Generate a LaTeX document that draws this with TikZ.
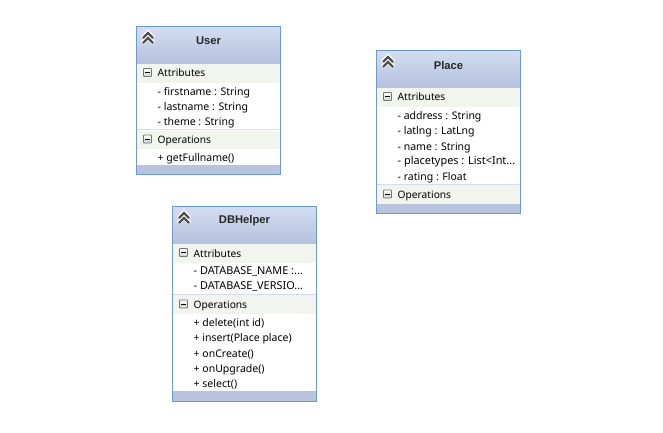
\documentclass[tikz,border=0pt]{standalone}
\usepackage{fontspec}
\setmainfont{Noto Sans}
\newfontfamily\titlefont{Liberation Sans}
\definecolor{edge}{HTML}{6A9AD6}
\definecolor{headtop}{HTML}{D3DCF0}
\definecolor{headbot}{HTML}{B4C1DE}
\definecolor{band}{HTML}{F2F5EE}
\definecolor{foot}{HTML}{B7C3DF}
\definecolor{sep}{HTML}{D5DCF0}
\definecolor{icon}{HTML}{505050}
\tikzset{
  classframe/.style={fill=white,inner sep=0pt,rectangle},
  frameline/.style={draw=edge,line width=1pt},
  headfill/.style={top color=headtop,bottom color=headbot,draw=none},
  bandfill/.style={fill=band,draw=none},
  footfill/.style={fill=foot,draw=none},
  titletext/.style={font=\titlefont\fontsize{11.2}{13}\selectfont\bfseries,text=black!85,inner sep=0pt,anchor=center},
  itemtext/.style={font=\fontsize{10.2}{12}\selectfont,text=black,inner sep=0pt,anchor=base west},
  membertext/.style={itemtext,font=\fontsize{10.5}{12}\selectfont},
  widetext/.style={itemtext,font=\fontsize{10.9}{12}\selectfont},
}
\newcommand{\chev}[2]{%
  \begin{scope}[shift={(#1,#2)}]
    \foreach \yy in {0,5}{
      \draw[white,line width=4.4pt,line join=miter] (-5.5,\yy+4) -- (0,\yy-1.5) -- (5.5,\yy+4);
    }
    \foreach \yy in {0,5}{
      \draw[icon,line width=2.2pt,line join=miter] (-5,\yy+4) -- (0,\yy-1) -- (5,\yy+4);
    }
  \end{scope}}
\newcommand{\minusbox}[2]{%
  \begin{scope}[shift={(#1,#2)}]
    \draw[draw=black!55,top color=white,bottom color=black!18,line width=0.8pt,rounded corners=0.8pt] (-4,-4) rectangle (4,4);
    \draw[black,line width=1pt] (-2.2,0) -- (2.2,0);
  \end{scope}}
\begin{document}
\begin{tikzpicture}[x=1pt,y=-1pt]
\useasboundingbox (0,0) rectangle (663,432);
\fill[white] (0,0) rectangle (663,432);

% ---------- User
\node[classframe,minimum width=144pt,minimum height=148pt] (user) at (208.5,100.5) {};
\fill[headfill] (137,27) rectangle (280,64);
\fill[bandfill] (137,64) rectangle (280,83);
\fill[bandfill] (137,130.5) rectangle (280,149);
\draw[sep,line width=1pt] (137,129.5) -- (280,129.5);
\fill[footfill] (137,165) rectangle (280,174);
\draw[frameline] (user.north west) rectangle (user.south east);
\chev{148}{34}
\minusbox{147.5}{72.5}
\minusbox{147.5}{139}
\node[titletext] (usertitle) at (208.5,40.7) {User};
\node[itemtext] (ua) at (157.5,76.7) {Attributes};
\node[membertext] (ua1) at (157.5,95) {- firstname : String};
\node[membertext] (ua2) at (157.5,110) {- lastname : String};
\node[membertext] (ua3) at (157.5,125.6) {- theme : String};
\node[itemtext] (uo) at (157.5,143) {Operations};
\node[membertext] (uo1) at (157.5,161) {+ getFullname()};

% ---------- Place
\node[classframe,minimum width=144pt,minimum height=163pt] (place) at (448.5,132) {};
\fill[headfill] (377,51) rectangle (520,88);
\fill[bandfill] (377,88) rectangle (520,107);
\fill[bandfill] (377,185) rectangle (520,204);
\draw[sep,line width=1pt] (377,184.5) -- (520,184.5);
\fill[footfill] (377,204) rectangle (520,213);
\draw[frameline] (place.north west) rectangle (place.south east);
\chev{388}{58}
\minusbox{387.5}{96.5}
\minusbox{387.5}{194}
\node[titletext] (placetitle) at (448.5,65) {Place};
\node[itemtext] (pa) at (397.5,100.7) {Attributes};
\node[membertext] (pa1) at (397.5,119) {- address : String};
\node[membertext] (pa2) at (397.5,134) {- latlng : LatLng};
\node[membertext] (pa3) at (397.5,150) {- name : String};
\node[widetext] (pa4) at (397.5,164) {- placetypes : List<Int...};
\node[membertext] (pa5) at (397.5,180) {- rating : Float};
\node[itemtext] (po) at (397.5,198) {Operations};

% ---------- DBHelper
\node[classframe,minimum width=144pt,minimum height=194pt] (db) at (244.5,304) {};
\fill[headfill] (173,207) rectangle (316,244);
\fill[bandfill] (173,244) rectangle (316,263);
\fill[bandfill] (173,295) rectangle (316,314);
\draw[sep,line width=1pt] (173,294.5) -- (316,294.5);
\fill[footfill] (173,391) rectangle (316,400.5);
\draw[frameline] (db.north west) rectangle (db.south east);
\chev{184}{214}
\minusbox{183.5}{252.5}
\minusbox{183.5}{304}
\node[titletext] (dbtitle) at (244.5,221) {DBHelper};
\node[itemtext] (da) at (193.5,257) {Attributes};
\node[widetext] (da1) at (193.5,274) {- DATABASE\_NAME :...};
\node[widetext] (da2) at (193.5,289) {- DATABASE\_VERSIO...};
\node[itemtext] (dop) at (193.5,308) {Operations};
\node[membertext] (do1) at (193.5,326) {+ delete(int id)};
\node[membertext] (do2) at (193.5,341) {+ insert(Place place)};
\node[membertext] (do3) at (193.5,357) {+ onCreate()};
\node[membertext] (do4) at (193.5,372) {+ onUpgrade()};
\node[membertext] (do5) at (193.5,387) {+ select()};
\end{tikzpicture}
\end{document}
